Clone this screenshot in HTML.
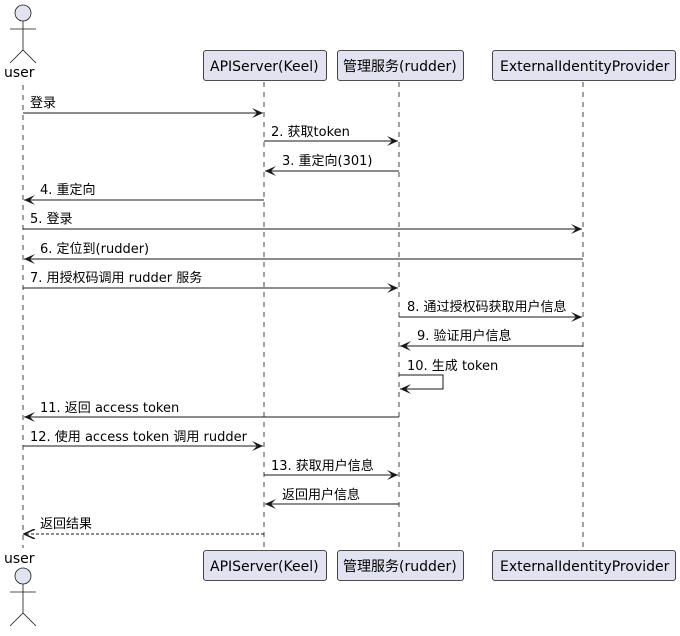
<!DOCTYPE html>
<html><head><meta charset="utf-8"><style>
body{margin:0;background:#fff}
text{font-family:"DejaVu Sans","Noto Sans CJK SC",sans-serif;font-size:13px;fill:#000}
.b{font-size:14px}
</style></head><body>
<svg width="680" height="631" xmlns="http://www.w3.org/2000/svg">
<defs>
<marker id="a" markerWidth="12" markerHeight="10" refX="11" refY="5" orient="auto" markerUnits="userSpaceOnUse"><path d="M0,0 L11,5 L0,10 L5,5 Z" fill="#181818"/></marker>
<marker id="o" markerWidth="12" markerHeight="10" refX="11" refY="5" orient="auto" markerUnits="userSpaceOnUse"><path d="M0,0 L11,5 L0,10" fill="none" stroke="#181818" stroke-width="1.5"/></marker>
</defs>
<g stroke="#181818" stroke-dasharray="5,5" stroke-width="0.8">
<line x1="23" y1="85" x2="23" y2="548"/><line x1="264" y1="82" x2="264" y2="548"/><line x1="399" y1="82" x2="399" y2="548"/><line x1="583" y1="82" x2="583" y2="548"/>
</g>
<g fill="#E2E2F0" stroke="#181818" stroke-width="0.8">
<rect x="203.5" y="50.5" width="123" height="30" rx="2.5"/><rect x="337.5" y="50.5" width="126" height="30" rx="2.5"/><rect x="492.5" y="50.5" width="183" height="30" rx="2.5"/>
<rect x="203.5" y="550.5" width="123" height="30" rx="2.5"/><rect x="337.5" y="550.5" width="126" height="30" rx="2.5"/><rect x="492.5" y="550.5" width="183" height="30" rx="2.5"/>
<circle cx="23" cy="13" r="8"/><circle cx="23" cy="576" r="8"/>
</g>
<g stroke="#181818" stroke-width="0.8" fill="none">
<path d="M23,21V50M10,29H36M10,63L23,50L36,63"/>
<path d="M23,584V613M10,592H36M10,626L23,613L36,626"/>
</g>
<g>
<text x="4" y="77" class="b">user</text><text x="4" y="563" class="b">user</text>
<text x="210" y="71" class="b">APIServer(Keel)</text><text x="343" y="71" class="b">管理服务(rudder)</text><text x="500" y="71" class="b">ExternalIdentityProvider</text>
<text x="210" y="571" class="b">APIServer(Keel)</text><text x="343" y="571" class="b">管理服务(rudder)</text><text x="500" y="571" class="b">ExternalIdentityProvider</text>
</g>
<g stroke="#181818" stroke-width="1" marker-end="url(#a)">
<line x1="23" y1="113" x2="263" y2="113"/>
<line x1="264" y1="141" x2="398" y2="141"/>
<line x1="399" y1="171" x2="265" y2="171"/>
<line x1="264" y1="200" x2="24" y2="200"/>
<line x1="23" y1="229" x2="582" y2="229"/>
<line x1="583" y1="259" x2="24" y2="259"/>
<line x1="23" y1="288" x2="398" y2="288"/>
<line x1="399" y1="317" x2="582" y2="317"/>
<line x1="583" y1="346" x2="400" y2="346"/>
<path d="M399,375H443V389H400" fill="none"/>
<line x1="399" y1="417" x2="24" y2="417"/>
<line x1="23" y1="446" x2="263" y2="446"/>
<line x1="264" y1="475" x2="398" y2="475"/>
<line x1="399" y1="504" x2="265" y2="504"/>
<line x1="264" y1="534" x2="24" y2="534" stroke-dasharray="3,2" marker-end="url(#o)"/>
</g>
<g>
<text x="30" y="107">登录</text>
<text x="271" y="136">2. 获取token</text>
<text x="282" y="165">3. 重定向(301)</text>
<text x="40" y="194">4. 重定向</text>
<text x="30" y="223">5. 登录</text>
<text x="40" y="253">6. 定位到(rudder)</text>
<text x="30" y="282">7. 用授权码调用 rudder 服务</text>
<text x="407" y="311">8. 通过授权码获取用户信息</text>
<text x="417" y="340">9. 验证用户信息</text>
<text x="407" y="370">10. 生成 token</text>
<text x="40" y="412">11. 返回 access token</text>
<text x="30" y="441">12. 使用 access token 调用 rudder</text>
<text x="271" y="470">13. 获取用户信息</text>
<text x="282" y="499">返回用户信息</text>
<text x="40" y="528">返回结果</text>
</g>
</svg>
</body></html>
